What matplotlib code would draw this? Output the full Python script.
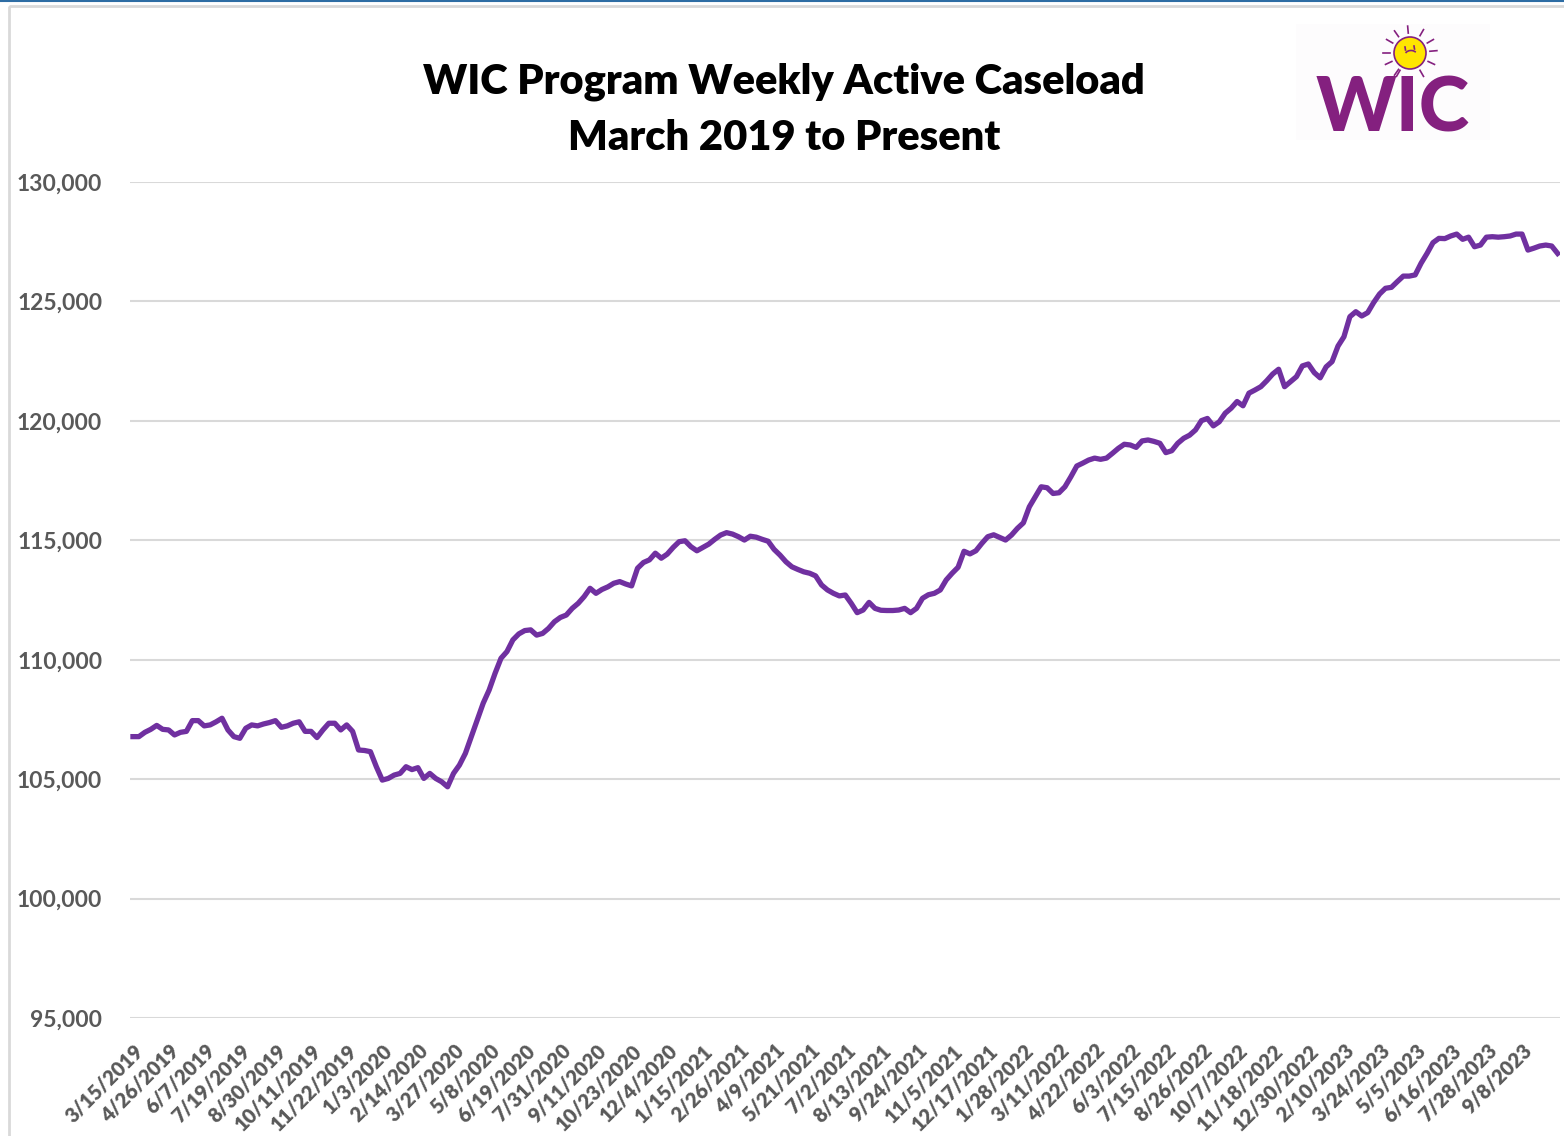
import matplotlib
matplotlib.use("Agg")
import matplotlib.pyplot as plt
import matplotlib.transforms as mtransforms
from matplotlib.patches import Circle, Rectangle, Arc
import numpy as np
import pandas as pd

# ---------------- data ----------------
start_date = "2019-03-15"
caseload = [
    106780, 106780, 106960, 107085, 107250, 107085, 107060, 106850, 106960, 107000,
    107450, 107450, 107230, 107270, 107400, 107550, 107060, 106780, 106710, 107130,
    107270, 107230, 107310, 107370, 107450, 107170, 107230, 107340, 107400, 107000,
    107000, 106740, 107060, 107340, 107340, 107060, 107270, 107000, 106220, 106200,
    106150, 105520, 104960, 105030, 105170, 105240, 105520, 105400, 105480, 105030,
    105240, 105030, 104890, 104680, 105240, 105590, 106080, 106780, 107480, 108180,
    108730, 109430, 110060, 110340, 110830, 111080, 111220, 111250, 111030, 111100,
    111310, 111590, 111770, 111870, 112150, 112360, 112640, 112990, 112780, 112940,
    113050, 113200, 113270, 113170, 113090, 113830, 114070, 114180, 114460, 114250,
    114420, 114700, 114940, 114980, 114730, 114560, 114700, 114840, 115040, 115220,
    115320, 115260, 115150, 115010, 115170, 115130, 115040, 114960, 114620, 114380,
    114100, 113890, 113780, 113680, 113620, 113510, 113130, 112920, 112780, 112670,
    112710, 112360, 111970, 112080, 112400, 112150, 112070, 112060, 112060, 112080,
    112150, 111970, 112150, 112570, 112720, 112780, 112920, 113340, 113620, 113870,
    114540, 114430, 114560, 114870, 115150, 115230, 115120, 115010, 115220, 115500,
    115730, 116400, 116820, 117240, 117200, 116960, 116990, 117240, 117660, 118110,
    118230, 118360, 118440, 118390, 118440, 118640, 118850, 119020, 118990, 118890,
    119160, 119200, 119140, 119060, 118670, 118750, 119060, 119270, 119400, 119620,
    120010, 120100, 119790, 119960, 120320, 120530, 120810, 120630, 121160, 121290,
    121430, 121680, 121960, 122160, 121430, 121640, 121850, 122300, 122380, 122020,
    121800, 122260, 122480, 123130, 123520, 124360, 124570, 124390, 124530, 124950,
    125310, 125550, 125590, 125830, 126060, 126060, 126110, 126600, 127010, 127460,
    127640, 127630, 127740, 127820, 127600, 127690, 127290, 127360, 127690, 127710,
    127690, 127710, 127740, 127820, 127820, 127150, 127230, 127320, 127360, 127320,
    127010,
]
tick_labels = [
    "3/15/2019", "4/26/2019", "6/7/2019", "7/19/2019", "8/30/2019", "10/11/2019",
    "11/22/2019", "1/3/2020", "2/14/2020", "3/27/2020", "5/8/2020", "6/19/2020",
    "7/31/2020", "9/11/2020", "10/23/2020", "12/4/2020", "1/15/2021", "2/26/2021",
    "4/9/2021", "5/21/2021", "7/2/2021", "8/13/2021", "9/24/2021", "11/5/2021",
    "12/17/2021", "1/28/2022", "3/11/2022", "4/22/2022", "6/3/2022", "7/15/2022",
    "8/26/2022", "10/7/2022", "11/18/2022", "12/30/2022", "2/10/2023", "3/24/2023",
    "5/5/2023", "6/16/2023", "7/28/2023", "9/8/2023",
]
y_ticks = [95000, 100000, 105000, 110000, 115000, 120000, 125000, 130000]
title_lines = ["WIC Program Weekly Active Caseload", "March 2019 to Present"]

weeks = pd.date_range(start_date, periods=len(caseload), freq="7D")
labels_all = [f"{d.month}/{d.day}/{d.year}" for d in weeks]
tick_pos = [labels_all.index(t) for t in tick_labels]

# ---------------- figure ----------------
W, H = 1564, 1136
fig = plt.figure(figsize=(W / 100, H / 100), dpi=100)
fig.patch.set_facecolor("white")

# overlay in pixel coordinates (frame + logo)
ov = fig.add_axes([0, 0, 1, 1], zorder=0)
ov.set_xlim(0, W)
ov.set_ylim(H, 0)
ov.axis("off")
ov.add_patch(Rectangle((9, 6), W, H, fill=False, edgecolor="#d9d9d9", lw=2))
ov.plot([0, W], [1, 1], color="#2e6da4", lw=1.5)

# logo
purple_logo = "#84207f"
ov.add_patch(Rectangle((1296, 24), 194, 116, facecolor="#fdfcfd", edgecolor="none"))
ov.text(1393, 131, "WIC", ha="center", va="baseline", fontsize=55,
        fontweight="black", family=["Lato", "DejaVu Sans"], color=purple_logo)
cx, cy, r = 1410, 53, 16
ov.add_patch(Circle((cx, cy), r, facecolor="#ffe500", edgecolor=purple_logo, lw=1.2, zorder=3))
for ang in [95, 125, 150, 180, 205, 235, 60, 30, 5, -25, -60, -120]:
    a = np.deg2rad(ang)
    r0, r1 = r + 4, r + 11
    ov.plot([cx + r0 * np.cos(a), cx + r1 * np.cos(a)],
            [cy - r0 * np.sin(a), cy - r1 * np.sin(a)], color=purple_logo, lw=1.2)
ov.plot([1405, 1405.5], [47, 50], color=purple_logo, lw=1.2, zorder=4)
ov.plot([1414, 1414.5], [46, 49], color=purple_logo, lw=1.2, zorder=4)
ov.add_patch(Arc((1411, 55), 12, 9, theta1=200, theta2=330, color=purple_logo, lw=1.2, zorder=4))

# title
for k, line in enumerate(title_lines):
    ov.text(784, 82 + k * 56, line, ha="center", va="center", fontsize=30,
            fontweight="heavy", family=["Lato", "DejaVu Sans"], color="black")

# main axes
ax = fig.add_axes([130 / W, 1 - 1018 / H, 1430 / W, 836 / H], zorder=1)
ax.set_facecolor("none")
x = np.arange(len(caseload))
ax.plot(x, caseload, color="#7030a0", lw=3.8, solid_joinstyle="round", zorder=3)
ax.set_ylim(95000, 130000)
ax.set_xlim(-0.5, 240.4)
ax.set_yticks(y_ticks)
ax.set_yticklabels([f"{v:,}" for v in y_ticks])
ax.grid(axis="y", color="#d9d9d9", lw=1.5)
ax.set_axisbelow(True)
for s in ax.spines.values():
    s.set_visible(False)
ax.tick_params(axis="both", length=0)
ax.tick_params(axis="y", pad=20, labelsize=16.5, labelcolor="#595959")
ax.set_xticks(tick_pos)
ax.set_xticklabels(tick_labels, rotation=45, ha="right", va="center",
                   rotation_mode="anchor", fontsize=14.5, color="#595959",
                   fontweight="heavy", family=["Lato", "DejaVu Sans"])
ax.tick_params(axis="x", pad=21)
for lab in ax.get_yticklabels():
    lab.set_family(["Lato", "DejaVu Sans"])
    lab.set_fontweight("bold")
offset = mtransforms.ScaledTranslation(7 / 100, 0, fig.dpi_scale_trans)
for lab in ax.get_xticklabels():
    lab.set_transform(lab.get_transform() + offset)

fig.savefig("out.png", dpi=100, facecolor="white")
